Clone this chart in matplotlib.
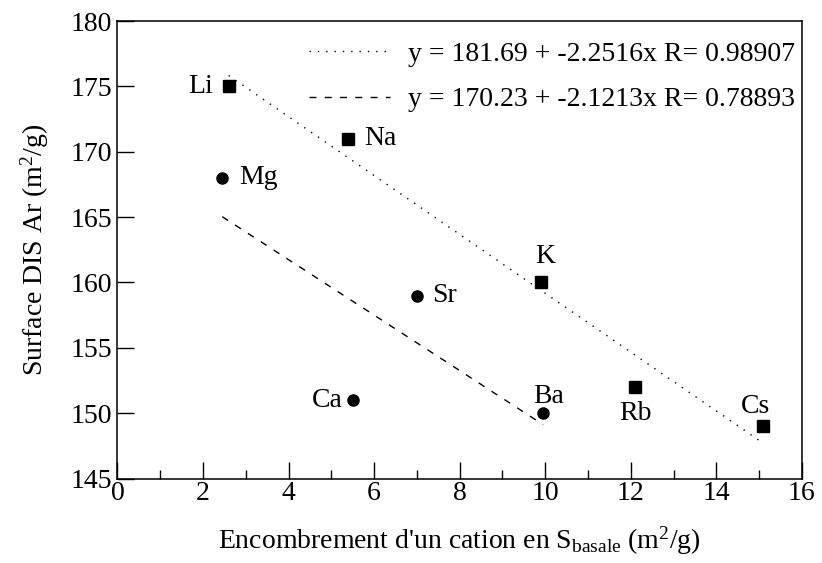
import numpy as np
import matplotlib
matplotlib.use("Agg")
import matplotlib.pyplot as plt

plt.rcParams['font.family'] = ['Liberation Serif', 'DejaVu Serif']
plt.rcParams['mathtext.fontset'] = 'custom'
plt.rcParams['mathtext.rm'] = 'Liberation Serif'
plt.rcParams['mathtext.it'] = 'Liberation Serif:italic'

# alkali cations (squares)
sq_names = ['Li', 'Na', 'K', 'Rb', 'Cs']
sq_x = [2.6, 5.4, 9.9, 12.1, 15.1]
sq_y = [175, 171, 160, 152, 149]

# alkaline-earth cations (circles)
ci_names = ['Mg', 'Sr', 'Ca', 'Ba']
ci_x = [2.45, 7.0, 5.5, 9.95]
ci_y = [168, 159, 151, 150]

# linear fits as given in the legend
fit_sq = (181.69, -2.2516, 0.98907)
fit_ci = (170.23, -2.1213, 0.78893)

FS = 20

fig = plt.figure(figsize=(8.22, 5.63), dpi=100)
ax = fig.add_axes([0.1429, 0.150, 0.8327, 0.8126])

xs = np.array([min(sq_x), max(sq_x)])
ax.plot(xs, fit_sq[0] + fit_sq[1]*xs, color='k', lw=1.0, ls=(0, (1, 5)),
        label='y = %.2f + %.4fx R= %.5f' % fit_sq)
xc = np.array([min(ci_x), max(ci_x)])
ax.plot(xc, fit_ci[0] + fit_ci[1]*xc, color='k', lw=1.0, ls=(0, (5, 6)),
        label='y = %.2f + %.4fx R= %.5f' % fit_ci)

ax.plot(sq_x, sq_y, 's', color='k', ms=8, ls='none')
ax.plot(ci_x, ci_y, 'o', color='k', ms=8, ls='none')

# label offsets (points) and alignment
sq_off = {'Li': (-11, 0, 'right', 'center'), 'Na': (11, 0, 'left', 'center'),
          'K': (3, 10, 'center', 'bottom'), 'Rb': (0, -10, 'center', 'top'),
          'Cs': (-6, 5, 'center', 'bottom')}
ci_off = {'Mg': (12, 0, 'left', 'center'), 'Sr': (11, 0, 'left', 'center'),
          'Ca': (-7, 0, 'right', 'center'), 'Ba': (4, 3, 'center', 'bottom')}
for n, x, y in zip(sq_names, sq_x, sq_y):
    dx, dy, ha, va = sq_off[n]
    ax.annotate(n, (x, y), xytext=(dx, dy), textcoords='offset points',
                ha=ha, va=va, fontsize=FS)
for n, x, y in zip(ci_names, ci_x, ci_y):
    dx, dy, ha, va = ci_off[n]
    ax.annotate(n, (x, y), xytext=(dx, dy), textcoords='offset points',
                ha=ha, va=va, fontsize=FS)

ax.set_xlim(0, 16)
ax.set_ylim(145, 180)
ax.set_xticks(np.arange(0, 17, 2))
ax.set_xticks(np.arange(1, 16, 2), minor=True)
ax.set_yticks(np.arange(145, 181, 5))
ax.tick_params(axis='both', which='major', direction='in', length=12, width=1,
               labelsize=FS, top=False, right=False)
ax.tick_params(axis='x', which='major', pad=2)
ax.tick_params(axis='y', which='major', pad=4)
ax.tick_params(axis='x', which='minor', direction='in', length=6.5, width=1,
               top=False)
for s in ax.spines.values():
    s.set_linewidth(1.1)

ax.set_xlabel(r"Encombrement d'un cation en S$_{\mathrm{basale}}$ (m$^{2}$/g)",
              fontsize=FS, labelpad=13)
ax.set_ylabel(r"Surface DIS Ar (m$^{2}$/g)", fontsize=FS, labelpad=14)

ax.legend(loc='upper right', bbox_to_anchor=(0.99, 0.956), frameon=False,
          fontsize=FS, handlelength=2.9, handletextpad=0.65, borderpad=0,
          borderaxespad=0, labelspacing=0.73)

fig.savefig('out.png', dpi=100)
